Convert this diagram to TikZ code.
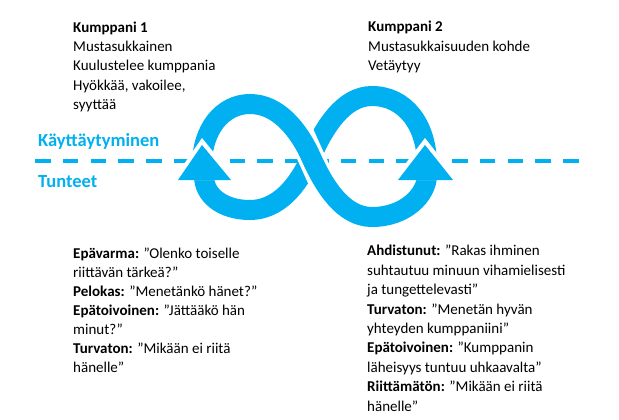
\documentclass[tikz,border=0pt]{standalone}
\usepackage{fontspec}
\setmainfont{Carlito}
\usetikzlibrary{positioning}
\definecolor{loopblue}{RGB}{0,176,240}
\tikzset{
	info text/.style={align=left,inner sep=0pt,anchor=base west,font=\fontsize{15}{19.4}\selectfont},
	level text/.style={inner sep=0pt,anchor=base west,text=loopblue,font=\fontsize{18.5}{20}\selectfont\bfseries},
	band/.style={draw=loopblue,line width=20pt},
	gap band/.style={draw=white,line width=27pt},
	head/.style={fill=loopblue}
}

\begin{document}
\begin{tikzpicture}[x=1pt,y=-1pt]
	\useasboundingbox (0,0) rectangle (619,420);
	% dividing line
	\draw[loopblue,line width=4pt,dash pattern=on 15.5pt off 12.3pt] (35,161) -- (580,161);
	% under strand
	\draw[band] (427,165) .. controls (427,125) and (405,96) .. (372,96)
		.. controls (343,96) and (324,128) .. (311,157)
		.. controls (298,186) and (278,210) .. (250,210)
		.. controls (222,210) and (204,195) .. (204,176);
	\draw[gap band] (299.5,131.5) -- (322.5,182.5);
	% over strand
	\draw[band] (202,165) .. controls (202,130) and (222,104) .. (250,104)
		.. controls (278,104) and (298.7,129.7) .. (311,157)
		.. controls (324,186) and (343,217) .. (372,217)
		.. controls (405,217) and (427,195) .. (427,175);
	% arrow heads
	\fill[white] (202,138) -- (236,180) -- (173,180) -- cycle;
	\fill[white] (425,138) -- (458,180) -- (393,180) -- cycle;
	\fill[head] (202,145) -- (231,180) -- (178,180) -- cycle;
	\fill[head] (425,145) -- (453,180) -- (398,180) -- cycle;

	\node[level text] (beh) at (38,146.5) {Käyttäytyminen};
	\node[level text] (feel) at (38,187) {Tunteet};

	% base anchor = last line
	\node[info text] (p1) at (73,109.6) {\textbf{Kumppani 1}\\Mustasukkainen\\Kuulustelee kumppania\\Hyökkää, vakoilee,\\syyttää};
	\node[info text] (p2) at (368,70.8) {\textbf{Kumppani 2}\\Mustasukkaisuuden kohde\\Vetäytyy};
	\node[info text,font=\fontsize{15}{19}\selectfont] (f1) at (73,372) {\textbf{Epävarma:} ”Olenko toiselle\\riittävän tärkeä?”\\\textbf{Pelokas:} ”Menetänkö hänet?”\\\textbf{Epätoivoinen:} ”Jättääkö hän\\minut?”\\\textbf{Turvaton:} ”Mikään ei riitä\\hänelle”};
	\node[info text] (f2) at (367,411) {\textbf{Ahdistunut:} ”Rakas ihminen\\suhtautuu minuun vihamielisesti\\ja tungettelevasti”\\\textbf{Turvaton:} ”Menetän hyvän\\yhteyden kumppaniini”\\\textbf{Epätoivoinen:} ”Kumppanin\\läheisyys tuntuu uhkaavalta”\\\textbf{Riittämätön:} ”Mikään ei riitä\\hänelle”};
\end{tikzpicture}
\end{document}
